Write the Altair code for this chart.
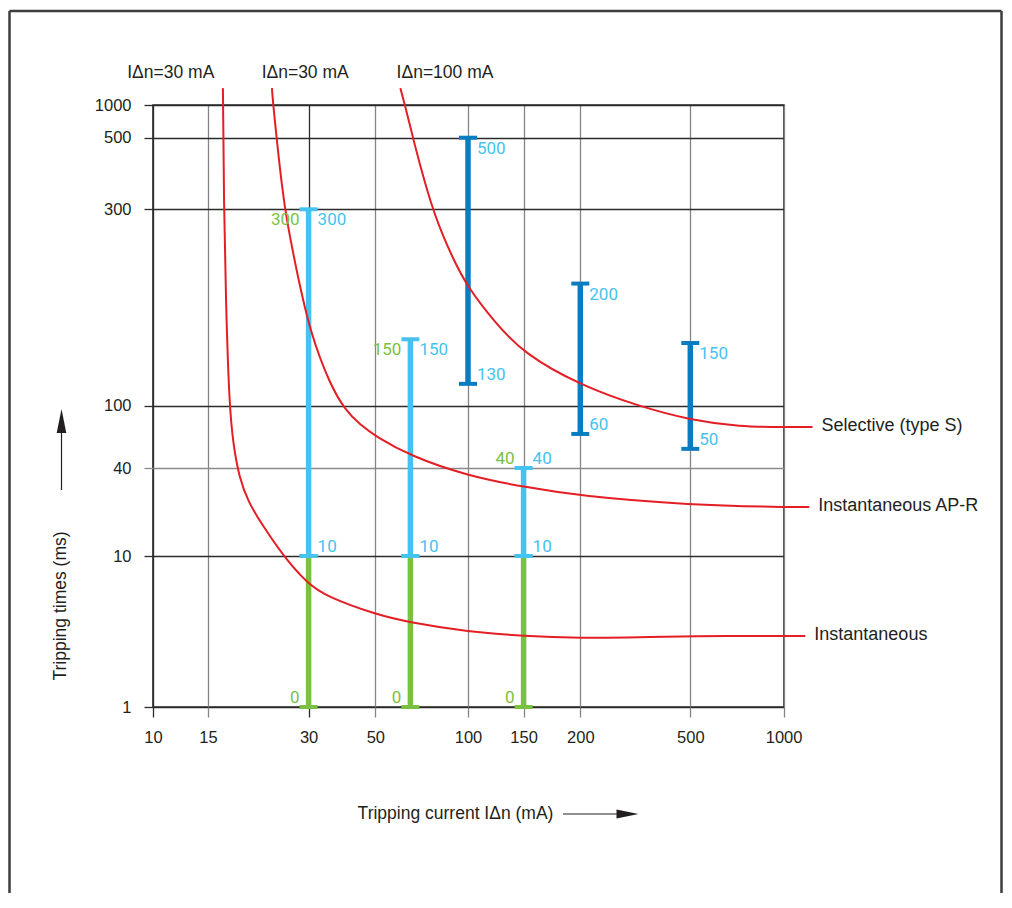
import altair as alt
import pandas as pd

# ---------------- data ----------------
x_ticks = [10, 15, 30, 50, 100, 150, 200, 500, 1000]   # tripping current (mA)
y_ticks = [1, 10, 40, 100, 300, 500, 1000]              # tripping time (ms)

# the original grid is irregular: pixel stop of every tick on each axis
x_stops = [0, 55, 155.6, 222.3, 315, 370.6, 427.3, 537.3, 630.6]
y_stops = [602, 451, 363, 300.7, 104.3, 32.7, 0]

curve_names = ["Selective (type S)", "Instantaneous AP-R", "Instantaneous"]

sel_x = [60.3, 62.4, 64.5, 66.9, 70.0, 73.8, 77.7, 82.5, 88.9, 99.2, 122, 150, 200, 330, 500,
         725, 1000, 1240]
sel_y = [1430, 1000, 683, 482, 409, 342, 294, 261, 230, 195, 159, 134, 112, 98.5, 81,
         73.4, 73.1, 73.1]

apr_x = [23.3, 23.5, 25.0, 25.9, 27.7, 30.4, 35.4, 39.7, 44.6, 50, 65, 100, 150, 200, 500,
         1000, 1210]
apr_y = [1430, 1000, 344, 278, 210, 150, 112.3, 93.9, 75.3, 64.0, 47.7, 35.3, 29.7, 25.7, 22.3,
         21.6, 21.6]

inst_x = [16.62, 16.65, 16.73, 16.96, 17.37, 17.86, 18.61, 19.8, 21.81, 25.2, 29.7, 34.5, 50,
          65, 100, 150, 200, 330, 500, 1000, 1175]
inst_y = [1430, 1000, 320, 181, 100, 56.1, 34.2, 23.4, 16.3, 10, 6.6, 5.38, 4.11,
          3.62, 3.15, 2.95, 2.86, 2.89, 2.95, 2.95, 2.95]

bar_current = [30, 65, 150, 30, 65, 150, 100, 200, 500]
bar_low = [1, 1, 1, 10, 10, 10, 113, 66, 53]
bar_high = [10, 10, 10, 300, 145, 40, 500, 198, 142]
bar_kind = ["green", "green", "green", "light", "light", "light", "dark", "dark", "dark"]

label_current = [30, 65, 150, 30, 65, 150, 30, 65, 150, 30, 65, 150, 100, 100, 200, 200, 500, 500]
label_time = [1, 1, 1, 300, 145, 40, 300, 145, 40, 10, 10, 10, 500, 113, 198, 66, 142, 53]
label_text = ["0", "0", "0", "300", "150", "40", "300", "150", "40", "10", "10", "10",
              "500", "130", "200", "60", "150", "50"]
label_kind = ["green"] * 6 + ["light"] * 12
label_side = ["left"] * 6 + ["right"] * 12
label_place = ["above", "above", "above", "below", "below", "above",
               "below", "below", "above", "above", "above", "above",
               "below", "above", "below", "above", "below", "above"]

top_label_text = ["I\u0394n=30 mA", "I\u0394n=30 mA", "I\u0394n=100 mA"]
top_label_current = [11.4, 29.3, 84.2]

# ---------------- styling ----------------
RED = "#e31e25"
GREEN = "#7ac143"
LIGHT = "#45c2ef"
DARK = "#0a7cc1"
INK = "#231f20"
SANS = "Liberation Sans"

xs = alt.Scale(type="log", domain=x_ticks, range=x_stops, nice=False)
ys = alt.Scale(type="log", domain=y_ticks, range=y_stops, nice=False)
cscale = alt.Scale(domain=["green", "light", "dark"], range=[GREEN, LIGHT, DARK])

xcol = {"condition": {"test": "datum.value === 10 || datum.value === 30", "value": "#2b2b2b"},
        "value": "#858585"}
ycol = {"condition": {"test": "datum.value === 40", "value": "#8a8a8a"}, "value": "#2b2b2b"}

xaxis = alt.Axis(values=x_ticks, format="d", title=None, grid=True, gridColor=xcol, gridWidth=1.3,
                 tickColor=xcol, tickSize=10, tickWidth=1.3, domain=False, labelFont=SANS,
                 labelFontSize=16.5, labelColor=INK, labelPadding=12, labelFlush=False,
                 labelOverlap=False)
yaxis = alt.Axis(values=y_ticks, format="d", title=None, grid=True, gridColor=ycol, gridWidth=1.3,
                 tickColor=ycol, tickSize=9, tickWidth=1.3, domain=False, labelFont=SANS,
                 labelFontSize=16.5, labelColor=INK, labelPadding=13, labelFlush=False,
                 labelOverlap=False)


def X(f):
    return alt.X(f, type="quantitative", scale=xs, axis=xaxis)


def Y(f):
    return alt.Y(f, type="quantitative", scale=ys, axis=yaxis)


# ---------------- tables ----------------
rows = []
for name, xs_, ys_ in zip(curve_names, [sel_x, apr_x, inst_x], [sel_y, apr_y, inst_y]):
    for i, (a, b) in enumerate(zip(xs_, ys_)):
        rows.append({"name": name, "i": i, "current": a, "time": b})
curves = pd.DataFrame(rows)
ends = pd.DataFrame({"name": curve_names,
                     "current": [sel_x[-1], apr_x[-1], inst_x[-1]],
                     "time": [sel_y[-1], apr_y[-1], inst_y[-1]]})
bars = pd.DataFrame({"current": bar_current, "lo": bar_low, "hi": bar_high, "kind": bar_kind})
labels = pd.DataFrame({"current": label_current, "time": label_time, "text": label_text,
                       "kind": label_kind, "side": label_side, "place": label_place})
tops = pd.DataFrame({"current": top_label_current, "text": top_label_text})
one = pd.DataFrame({"a": [0]})

# ---------------- layers ----------------
frame_col = "#3d3d3d"
frame = [
    alt.Chart(one).mark_rule(color=frame_col, strokeWidth=2.5).encode(
        x=alt.value(-143.5), x2=alt.value(848.5), y=alt.value(-94)),
    alt.Chart(one).mark_rule(color=frame_col, strokeWidth=2.5).encode(
        x=alt.value(-143.5), y=alt.value(-94), y2=alt.value(800)),
    alt.Chart(one).mark_rule(color=frame_col, strokeWidth=2.5).encode(
        x=alt.value(848.5), y=alt.value(-94), y2=alt.value(800)),
]

bar_rules = alt.Chart(bars).mark_rule(strokeWidth=5.5).encode(
    x=X("current"), y=Y("lo"), y2=alt.Y2("hi"),
    color=alt.Color("kind:N", scale=cscale, legend=None))

caps = alt.Chart(bars).transform_fold(["lo", "hi"], as_=["end", "t"]).mark_tick(
    orient="horizontal", size=18, thickness=4, opacity=1).encode(
    x=X("current"), y=Y("t"), color=alt.Color("kind:N", scale=cscale, legend=None))

lines = alt.Chart(curves).mark_line(color=RED, strokeWidth=2, interpolate="basis",
                                    clip=False).encode(
    x=X("current"), y=Y("time"), detail="name:N", order=alt.Order("i:Q"))

end_text = alt.Chart(ends).mark_text(align="left", baseline="middle", dx=9, dy=-1, font=SANS,
                                     fontSize=18, color=INK).encode(
    x=X("current"), y=Y("time"), text="name:N")

top_text = alt.Chart(tops).mark_text(align="center", baseline="middle", font=SANS,
                                     fontSize=17.5, color=INK).encode(
    x=X("current"), y=alt.value(-32), text="text:N")

label_layers = []
for side in ["left", "right"]:
    for place in ["above", "below"]:
        label_layers.append(
            alt.Chart(labels).transform_filter(
                f"datum.side == '{side}' && datum.place == '{place}'").mark_text(
                align="right" if side == "left" else "left",
                baseline="alphabetic" if place == "above" else "top",
                dx=-9 if side == "left" else 9,
                dy=-4 if place == "above" else 3,
                font="Roboto", fontSize=17).encode(
                x=X("current"), y=Y("time"), text="text:N",
                color=alt.Color("kind:N", scale=cscale, legend=None)))

x_title = alt.Chart(one).mark_text(text="Tripping current I\u0394n (mA)", font=SANS, fontSize=17.5,
                                   color=INK, align="center", baseline="middle").encode(
    x=alt.value(302.5), y=alt.value(709))
x_arrow = alt.Chart(one).mark_rule(color=INK, strokeWidth=1.2).encode(
    x=alt.value(410), x2=alt.value(466), y=alt.value(709))
x_head = alt.Chart(one).mark_point(shape="M-1,-0.4L1,0L-1,0.4Z", size=484, filled=True,
                                   color=INK, opacity=1).encode(
    x=alt.value(474.5), y=alt.value(709))

y_title = alt.Chart(one).mark_text(text="Tripping times (ms)", font=SANS, fontSize=17.5,
                                   color=INK, align="center", baseline="middle", angle=270).encode(
    x=alt.value(-92), y=alt.value(501))
y_arrow = alt.Chart(one).mark_rule(color=INK, strokeWidth=1.2).encode(
    x=alt.value(-91.5), y=alt.value(326), y2=alt.value(385))
y_head = alt.Chart(one).mark_point(shape="M-0.4,1L0,-1L0.4,1Z", size=576, filled=True,
                                   color=INK, opacity=1).encode(
    x=alt.value(-91.5), y=alt.value(316))

chart = alt.layer(
    bar_rules, caps, lines, end_text, top_text, *label_layers,
    x_title, x_arrow, x_head, y_title, y_arrow, y_head, *frame
).properties(
    width=631, height=602,
    autosize=alt.AutoSizeParams(type="none"),
    padding={"left": 145, "top": 97, "right": 219, "bottom": 186},
    background="white",
).configure_view(stroke="#2b2b2b", strokeWidth=1.6)

chart.save("out.html", embed_options={"renderer": "svg", "actions": False})
